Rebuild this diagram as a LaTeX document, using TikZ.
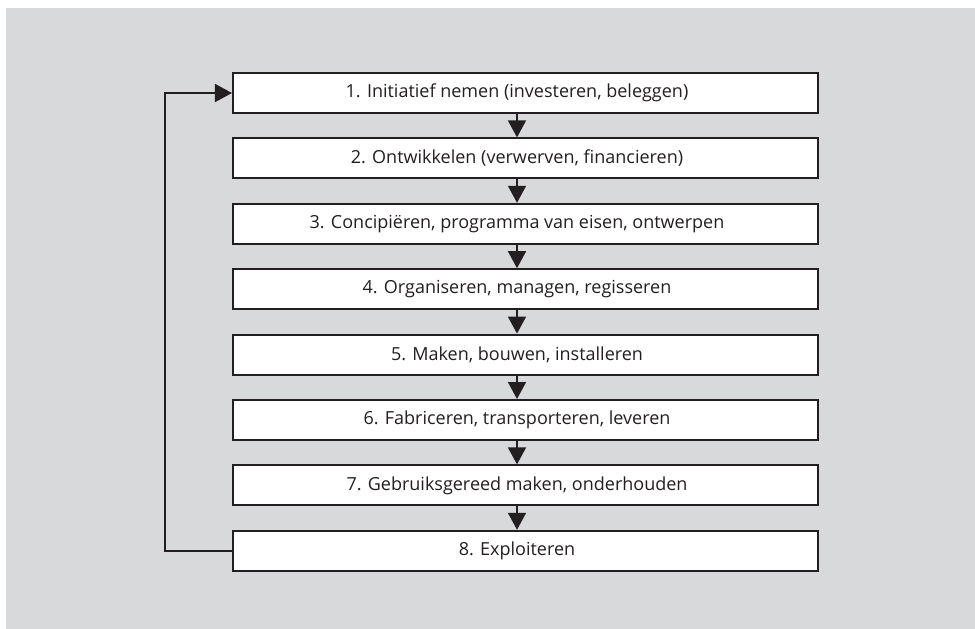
\documentclass[tikz,border=0pt]{standalone}
\usepackage{fontspec}
\setmainfont{Open Sans}
\usetikzlibrary{arrows.meta}
\definecolor{bggray}{HTML}{D8D9DB}
\definecolor{ink}{HTML}{231F20}
\tikzset{
  x=1bp, y=-1bp,
  stepbox/.style={draw=ink, line width=2bp, fill=white, minimum width=585bp, minimum height=40bp, inner sep=0pt},
  steptext/.style={text=ink, font=\fontsize{18bp}{21bp}\selectfont, inner sep=0pt},
  flow/.style={draw=ink, line width=1.6bp, -{Triangle[length=17bp,width=18bp]}},
}
\begin{document}
\begin{tikzpicture}
\useasboundingbox (0,0) rectangle (975,629);
\fill[white] (0,0) rectangle (975,629);
\fill[bggray] (6,8) rectangle (975,629);
\foreach \i/\t in {1/{1. Initiatief nemen (investeren, beleggen)},
                   2/{2. Ontwikkelen (verwerven, financieren)},
                   3/{3. Concipiëren, programma van eisen, ontwerpen},
                   4/{4. Organiseren, managen, regisseren},
                   5/{5. Maken, bouwen, installeren},
                   6/{6. Fabriceren, transporteren, leveren},
                   7/{7. Gebruiksgereed maken, onderhouden},
                   8/{8. Exploiteren}} {
  \pgfmathsetmacro{\yy}{93+65.4*(\i-1)}
  \node[stepbox] (b\i) at (525.5,\yy) {};
  \node[steptext] (t\i) at (517,\yy) {\t};
}
\coordinate (ax) at (517,0);
\foreach \i [evaluate=\i as \j using int(\i+1)] in {1,...,7} {
  \draw[flow] (b\i.south -| ax) -- (b\j.north -| ax);
}
\coordinate (fb) at (165,0);
\draw[flow] (b8.west) -- (b8.west -| fb) |- (b1.west);
\end{tikzpicture}
\end{document}
